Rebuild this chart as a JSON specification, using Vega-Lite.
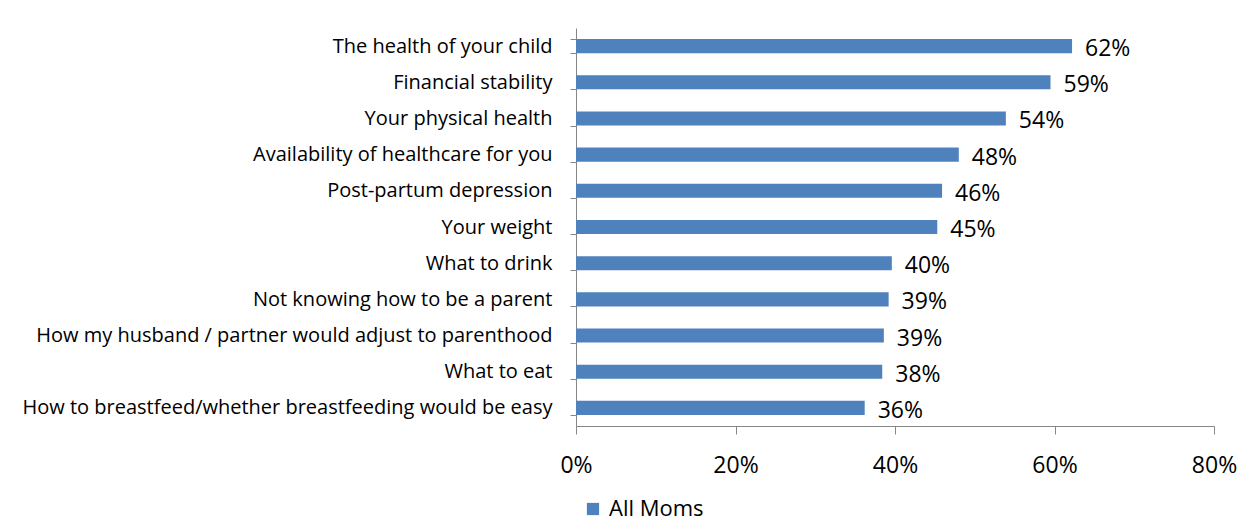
{
  "$schema": "https://vega.github.io/schema/vega-lite/v6.json",
  "width": 638,
  "height": 398,
  "autosize": "none",
  "padding": {"left": 576, "top": 28, "right": 36, "bottom": 97},
  "background": "white",
  "config": {
    "view": {"stroke": null},
    "font": "Open Sans",
    "axis": {"domainColor": "#868686", "tickColor": "#868686", "labelColor": "#000000", "labelFont": "Open Sans", "grid": false}
  },
  "data": {
    "values": [
      {"item": "The health of your child", "value": 62.2, "label": "62%", "series": "All Moms"},
      {"item": "Financial stability", "value": 59.5, "label": "59%", "series": "All Moms"},
      {"item": "Your physical health", "value": 53.9, "label": "54%", "series": "All Moms"},
      {"item": "Availability of healthcare for you", "value": 48.0, "label": "48%", "series": "All Moms"},
      {"item": "Post-partum depression", "value": 45.9, "label": "46%", "series": "All Moms"},
      {"item": "Your weight", "value": 45.3, "label": "45%", "series": "All Moms"},
      {"item": "What to drink", "value": 39.6, "label": "40%", "series": "All Moms"},
      {"item": "Not knowing how to be a parent", "value": 39.2, "label": "39%", "series": "All Moms"},
      {"item": "How my husband / partner would adjust to parenthood", "value": 38.6, "label": "39%", "series": "All Moms"},
      {"item": "What to eat", "value": 38.4, "label": "38%", "series": "All Moms"},
      {"item": "How to breastfeed/whether breastfeeding would be easy", "value": 36.2, "label": "36%", "series": "All Moms"}
    ]
  },
  "encoding": {
    "y": {
      "field": "item", "type": "nominal", "sort": null,
      "scale": {"paddingInner": 0.61, "paddingOuter": 0.305},
      "axis": {"title": null, "tickBand": "extent", "tickSize": 6, "labelPadding": 18, "labelFontSize": 20, "labelLimit": 0}
    },
    "x": {
      "field": "value", "type": "quantitative",
      "scale": {"domain": [0, 80], "nice": false},
      "axis": {"title": null, "values": [0, 20, 40, 60, 80], "labelExpr": "datum.value + '%'", "labelFlush": false, "tickSize": 8, "labelPadding": 20, "labelFontSize": 23}
    }
  },
  "layer": [
    {
      "mark": {"type": "bar", "color": "#4F81BD"},
      "encoding": {
        "color": {
          "field": "series", "type": "nominal",
          "scale": {"range": ["#4F81BD"]},
          "legend": {"title": null, "orient": "none", "legendX": 6, "legendY": 470, "symbolType": "square", "symbolSize": 150, "labelFontSize": 22, "labelFont": "Open Sans", "labelColor": "#000000", "symbolStrokeWidth": 0, "labelOffset": 5}
        }
      }
    },
    {
      "mark": {"type": "text", "align": "left", "baseline": "middle", "dx": 13, "dy": 3, "fontSize": 23, "color": "#000000"},
      "encoding": {"text": {"field": "label"}}
    }
  ]
}
